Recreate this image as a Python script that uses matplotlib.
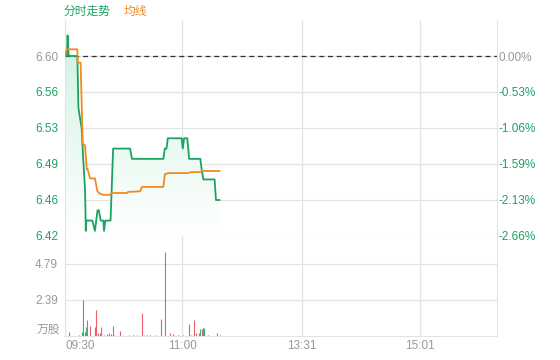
import numpy as np
import matplotlib
matplotlib.use("Agg")
import matplotlib.pyplot as plt
from matplotlib.colors import LinearSegmentedColormap

plt.rcParams['font.family'] = ['Liberation Sans', 'Noto Sans CJK SC', 'DejaVu Sans']

# x axis is in minute slots from 09:30
x_ticks = [0, 90, 182, 273]
x_labels = ["09:30", "11:00", "13:31", "15:01"]
x_max = 332

prev_close = 6.60
price_ticks = [6.60, 6.565, 6.53, 6.495, 6.46, 6.425]
price_labels = ["6.60", "6.56", "6.53", "6.49", "6.46", "6.42"]
pct_labels = ["0.00%", "-0.53%", "-1.06%", "-1.59%", "-2.13%", "-2.66%"]

# price line breakpoints (minute, price)
price_min = [0, 1.5, 2, 2.8, 9.5, 10.3, 11.5, 12.8, 14, 15.4, 16, 16.4, 21, 23, 24, 25, 26,
             27.4, 29.5, 30, 31, 35, 37, 50, 51.5, 75.6, 76.7, 78, 79, 89.7, 90.5, 91.5,
             94, 95.4, 104, 105, 106.4, 115, 116, 118.7]
price_val = [6.60, 6.60, 6.62, 6.60, 6.60, 6.55, 6.54, 6.53, 6.50, 6.47, 6.43, 6.44, 6.44,
             6.43, 6.44, 6.45, 6.45, 6.44, 6.44, 6.43, 6.44, 6.44, 6.51, 6.51, 6.50, 6.50,
             6.51, 6.51, 6.52, 6.52, 6.51, 6.52, 6.52, 6.50, 6.50, 6.49, 6.48, 6.48, 6.46,
             6.46]

# average line breakpoints
avg_min = [0, 1.3, 9.5, 9.7, 12, 13.6, 15.4, 16.7, 17.4, 19.2, 23, 24.9, 26.9, 29.5, 34.6,
           35.9, 47.4, 48.7, 52, 57.7, 59.2, 75.6, 76.7, 79.5, 94.9, 96.2, 104, 105.1, 118.7]
avg_val = [6.60, 6.6065, 6.6065, 6.5935, 6.5935, 6.515, 6.513, 6.49, 6.49, 6.481, 6.481,
           6.4685, 6.466, 6.465, 6.465, 6.4668, 6.4668, 6.468, 6.468, 6.4685, 6.4727,
           6.4727, 6.485, 6.4862, 6.4862, 6.487, 6.4872, 6.4882, 6.4882]

# volume (10k shares) per minute
vol_min = [3, 11, 13, 14, 15, 16, 17, 19, 23, 24, 25, 27, 28, 30, 32, 34, 35, 37, 38, 42,
           49, 52, 55, 59, 61, 63, 65, 69, 74, 77, 81, 83, 87, 91, 95, 97, 99, 101, 103,
           104, 105, 106, 107, 110, 117, 119]
vol_val = [0.27, 0.05, 0.25, 2.40, 0.28, 0.62, 1.06, 0.67, 0.58, 1.73, 0.18, 0.18, 0.58,
           0.09, 0.11, 0.18, 0.16, 0.69, 0.07, 0.35, 0.09, 0.09, 0.04, 1.51, 0.09, 0.07,
           0.07, 0.07, 1.15, 5.57, 0.18, 0.11, 0.07, 0.09, 0.80, 0.07, 1.06, 0.18, 0.22,
           0.44, 0.49, 0.53, 0.53, 0.07, 0.20, 0.07]
vol_dir = ["g", "r", "g", "g", "g", "g", "r", "r", "g", "r", "r", "r", "r", "g", "r", "r",
           "r", "r", "r", "r", "g", "g", "g", "r", "r", "r", "r", "r", "r", "r", "r", "r",
           "g", "g", "g", "r", "r", "r", "r", "g", "r", "g", "g", "r", "g", "g"]
vol_ticks = [2.395, 4.79]
vol_labels = ["2.39", "4.79"]

GREEN = "#1ba262"
ORANGE = "#f28a1f"
RED = "#ec5f6b"
GREEN_BAR = "#2fb27c"
GRAY = "#999999"
GRID = "#e3e3e3"

W, H = 560, 360
fig = plt.figure(figsize=(W / 100, H / 100), dpi=100)
ax = fig.add_axes([65 / W, 1 - 236 / H, 432 / W, 216 / H])
axv = fig.add_axes([65 / W, 1 - 336 / H, 432 / W, 100 / H])

# price panel
ax.set_xlim(0, x_max)
ax.set_ylim(6.425, 6.635)
for a in (ax, axv):
    for s in a.spines.values():
        s.set_color(GRID)
    a.spines["top"].set_visible(False)
    a.set_xticks(x_ticks)
    a.grid(True, color=GRID, linewidth=0.9)
    a.set_axisbelow(True)
    a.tick_params(length=0)
ax.spines["bottom"].set_visible(False)
ax.set_xticklabels([])

ax.set_yticks(price_ticks)
ax.set_yticklabels(price_labels, fontsize=8.5)
for i, t in enumerate(ax.get_yticklabels()):
    t.set_color(GRAY if i == 0 else GREEN)
ax.tick_params(axis="y", pad=5)

axr = ax.twinx()
axr.set_ylim(ax.get_ylim())
axr.set_yticks(price_ticks)
axr.set_yticklabels(pct_labels, fontsize=8.5)
for i, t in enumerate(axr.get_yticklabels()):
    t.set_color(GRAY if i == 0 else GREEN)
axr.tick_params(length=0, pad=1)
for s in axr.spines.values():
    s.set_visible(False)

# gradient fill under price line
cmap = LinearSegmentedColormap.from_list("g", ["#ffffff", "#d3f3e3"])
grad = np.linspace(0, 1, 256).reshape(-1, 1)
im = ax.imshow(grad, aspect="auto", cmap=cmap, origin="lower",
               extent=[0, price_min[-1], 6.425, 6.615], zorder=1)
poly = ax.fill_between(price_min, price_val, 6.425, color="none")
im.set_clip_path(poly.get_paths()[0], transform=ax.transData)

ax.axhline(prev_close, color="#333333", linewidth=0.9, linestyle=(0, (4, 3)), zorder=2)
ax.plot(price_min, price_val, color=GREEN, linewidth=1.3, zorder=3)
ax.plot(avg_min, avg_val, color=ORANGE, linewidth=1.3, zorder=4)

# volume panel
axv.set_xlim(0, x_max)
axv.set_ylim(0, 6.65)
axv.set_yticks(vol_ticks)
axv.set_yticklabels(vol_labels, fontsize=8.5, color=GRAY)
axv.tick_params(axis="y", pad=5)
colors = [GREEN_BAR if d == "g" else RED for d in vol_dir]
axv.vlines(vol_min, 0, vol_val, colors=colors, linewidth=0.8, snap=True, zorder=3)
axv.text(-5 / 1.3, 0, "万股", fontsize=8.5, color=GRAY, ha="right", va="bottom",
         family=["Noto Sans CJK SC"])

axv.set_xticklabels(x_labels, fontsize=8.5, color=GRAY)
axv.tick_params(axis="x", pad=3)
axv.get_xticklabels()[0].set_horizontalalignment("left")

fig.text(63 / W, 1 - 11 / H, "分时走势", fontsize=8.5, color=GREEN, va="center",
         family=["Noto Sans CJK SC"])
fig.text(124 / W, 1 - 11 / H, "均线", fontsize=8.5, color=ORANGE, va="center",
         family=["Noto Sans CJK SC"])

fig.savefig("out.png", dpi=100)
